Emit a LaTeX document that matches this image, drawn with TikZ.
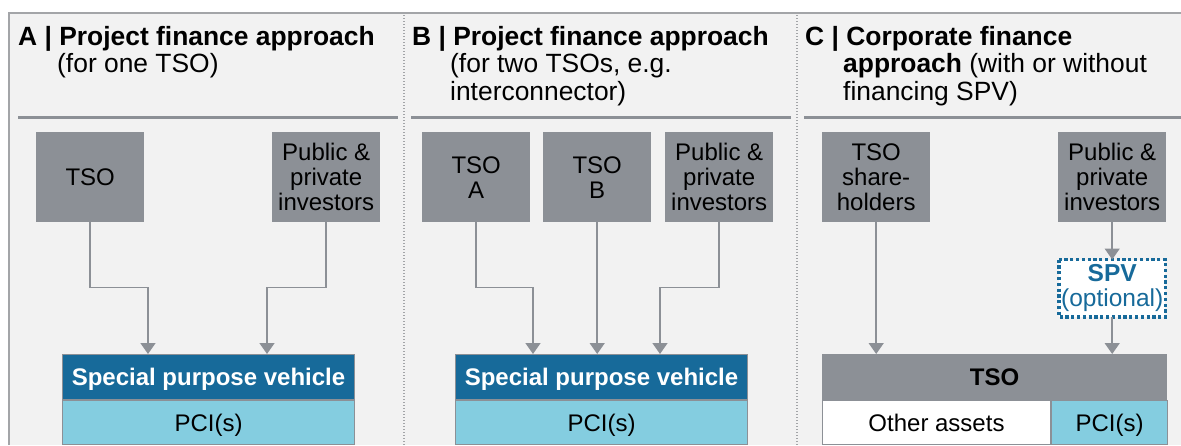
\documentclass[tikz,border=0pt]{standalone}
\usepackage{fontspec}
\setmainfont{Liberation Sans}
\usetikzlibrary{arrows.meta}
\definecolor{panelbg}{HTML}{F2F2F2}
\definecolor{boxgray}{HTML}{8C9096}
\definecolor{framegray}{HTML}{A3A5A8}
\definecolor{spvblue}{HTML}{176A9A}
\definecolor{pciblue}{HTML}{84CDE0}
\begin{document}
\begin{tikzpicture}[x=1pt,y=-1pt,
  head/.style={anchor=base west, inner sep=0pt, font=\fontsize{26.4}{27.5}\selectfont},
  party/.style={anchor=north west, fill=boxgray, minimum width=108pt, minimum height=90pt,
    inner sep=0pt, align=center, font=\fontsize{24}{25}\selectfont},
  vehicle/.style={anchor=north west, fill=spvblue, draw=boxgray, line width=1pt,
    minimum height=45pt, inner sep=0pt, text=white, text height=17.2pt, text depth=0pt,
    font=\fontsize{24}{25}\selectfont\bfseries},
  tsobar/.style={vehicle, fill=boxgray, text=black},
  asset/.style={anchor=north west, draw=boxgray, line width=1pt, minimum height=44pt,
    inner sep=0pt, text height=17.2pt, text depth=0pt, font=\fontsize{24}{25}\selectfont},
  pci/.style={asset, fill=pciblue},
  other/.style={asset, fill=white},
  optspv/.style={anchor=north west, fill=white, minimum width=106pt, minimum height=57pt,
    inner sep=0pt, align=center, text=spvblue, font=\fontsize{24.5}{25}\selectfont},
  dotframe/.style={draw=spvblue, line width=3.6pt, dash pattern=on 3.2pt off 2.6pt},
  link/.style={draw=boxgray, line width=1.5pt, -{Triangle[width=15pt,length=11pt]}},
  headrule/.style={draw=boxgray, line width=3pt},
  divider/.style={draw=framegray, line width=1.2pt, dash pattern=on 1.2pt off 1.8pt}
]
\useasboundingbox (0,0) rectangle (1181,445);

% background panel and its frame
\fill[panelbg] (9,13) rectangle (1181,445);
\draw[framegray, line width=1.5pt] (9,445) -- (9,13) -- (1181,13);
\draw[divider] (404,15) -- (404,445);
\draw[divider] (797,15) -- (797,445);

% ---------- A: project finance for one TSO ----------
\node[head] (a-h1) at (18,45) {\bfseries A | Project finance approach};
\node[head] (a-h2) at (57,72.5) {(for one TSO)};
\draw[headrule] (18,117) -- (398,117);

\node[party] (a-tso) at (36,132) {TSO};
\node[party] (a-inv) at (272,132) {Public \&\\private\\investors};
\node[vehicle, minimum width=292pt] (a-spv) at (62,354) {Special purpose vehicle};
\node[pci, minimum width=292pt] (a-pci) at (a-spv.south west) {PCI(s)};

\draw[link] (a-tso.south) -- ++(0,65) -| ([xshift=86pt]a-spv.north west);
\draw[link] (a-inv.south) -- ++(0,65) -| ([xshift=205pt]a-spv.north west);

% ---------- B: project finance for two TSOs ----------
\node[head] (b-h1) at (412,45) {\bfseries B | Project finance approach};
\node[head] (b-h2) at (450,72.5) {(for two TSOs, e.g.};
\node[head] (b-h3) at (450,100) {interconnector)};
\draw[headrule] (411,117) -- (791,117);

\node[party] (b-tsoa) at (422,132) {TSO\\A};
\node[party] (b-tsob) at (543,132) {TSO\\B};
\node[party] (b-inv) at (665,132) {Public \&\\private\\investors};
\node[vehicle, minimum width=292pt] (b-spv) at (455,354) {Special purpose vehicle};
\node[pci, minimum width=292pt] (b-pci) at (b-spv.south west) {PCI(s)};

\draw[link] (b-tsoa.south) -- ++(0,65) -| ([xshift=78pt]b-spv.north west);
\draw[link] (b-tsob.south) -- (b-tsob.south |- b-spv.north);
\draw[link] (b-inv.south) -- ++(0,65) -| ([xshift=205pt]b-spv.north west);

% ---------- C: corporate finance ----------
\node[head] (c-h1) at (805,45) {\bfseries C | Corporate finance};
\node[head] (c-h2) at (843,72.5) {\textbf{approach} (with or without};
\node[head] (c-h3) at (843,100) {financing SPV)};
\draw[headrule] (804,117) -- (1181,117);

\node[party] (c-sh) at (822,132) {TSO\\share-\\holders};
\node[party] (c-inv) at (1058,132) {Public \&\\private\\investors};
\node[optspv] (c-spv) at (1059,259.5) {\textbf{SPV}\\(optional)};
\draw[dotframe] (c-spv.north west) rectangle (c-spv.south east);
\node[tsobar, minimum width=344pt] (c-tso) at (822,354) {TSO};
\node[other, minimum width=228pt] (c-other) at (c-tso.south west) {Other assets};
\node[pci, minimum width=116pt] (c-pci) at (c-other.north east) {PCI(s)};

\draw[link] (c-sh.south) -- (c-sh.south |- c-tso.north);
\draw[link] (c-inv.south) -- (c-inv.south |- c-spv.north);
\draw[link] (c-spv.south) -- (c-spv.south |- c-tso.north);
\end{tikzpicture}
\end{document}
